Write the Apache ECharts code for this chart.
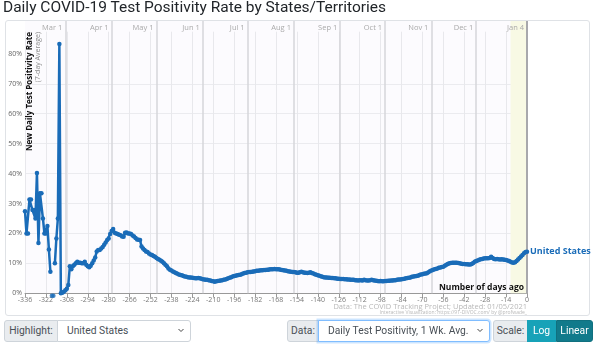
<!DOCTYPE html>
<html><head><meta charset="utf-8">
<script src="https://cdn.jsdelivr.net/npm/echarts@6/dist/echarts.min.js"></script>
<style>
body{margin:0;background:#fff;width:600px;height:344px;overflow:hidden;position:relative;font-family:Roboto,'Noto Sans',sans-serif;}
#title{position:absolute;left:3px;top:-2px;font-size:15.5px;color:#212529;white-space:nowrap;z-index:3;}
#box{position:absolute;left:5px;top:20px;width:585px;height:296px;border:1px solid #dfe2e6;border-radius:3px;box-sizing:border-box;}
#chart{position:absolute;left:0;top:0;width:600px;height:344px;z-index:1;}
.ctl{position:absolute;top:320px;height:22px;box-sizing:border-box;font-size:10.3px;line-height:20px;color:#495057;white-space:nowrap;z-index:3;border:1px solid #ced4da;}
.lab{background:#e9ecef;text-align:center;}
.sel{background:#fff;padding-left:9px;}
.chev{position:absolute;right:6px;top:7px;}
</style>
</head><body>
<div id="box"></div>
<div id="chart"></div>
<div id="title">Daily COVID-19 Test Positivity Rate by States/Territories</div>
<div class="ctl lab" style="left:4px;width:54px;border-radius:3px 0 0 3px;">Highlight:</div>
<div class="ctl sel" style="left:57px;width:134px;border-radius:0 3px 3px 0;">United States<svg class="chev" width="6" height="5" viewBox="0 0 6 5"><path d="M0.5 1 L3 3.5 L5.5 1" stroke="#444" stroke-width="1" fill="none"/></svg></div>
<div class="ctl lab" style="left:287px;width:32px;border-radius:3px 0 0 3px;">Data:</div>
<div class="ctl sel" style="left:318px;width:172px;border-color:#80bdff;box-shadow:0 0 0 1.5px rgba(0,123,255,.2);border-radius:0 3px 3px 0;">Daily Test Positivity, 1 Wk. Avg.<svg class="chev" width="6" height="5" viewBox="0 0 6 5"><path d="M0.5 1 L3 3.5 L5.5 1" stroke="#444" stroke-width="1" fill="none"/></svg></div>
<div class="ctl lab" style="left:493px;width:35px;border-radius:3px 0 0 3px;">Scale:</div>
<div class="ctl" style="left:527px;width:29px;background:#17a2b8;border-color:#17a2b8;color:#fff;text-align:center;">Log</div>
<div class="ctl" style="left:556px;width:37px;background:#117a8b;border-color:#10707f;color:#fff;text-align:center;border-radius:0 3px 3px 0;">Linear</div>
<script>
// ---- data ----
const startDay = -336;
const positivity = [
27.4, 20, 20, 31.3, 31.3, 27.8, 27.8, 25, 40.2, 16.8, 33.4, 33.4, 25, 20,
20, 22.5, 14.6, 7.2, null, null, 10, 18.3, 25, 83.3, 0, 0.2, 0.5, 1.0,
1.5, 2.8, 9.0, 8.0, 9.0, 9.5, 10.0, 10.5, 10.2, 10.2, 10.0, 10.0, 10.5, 9.5,
9.0, 8.7, 9.2, 10.0, 11.0, 12.0, 14.0, 14.5, 14.5, 15.0, 15.5, 16.2, 17.0, 17.8,
18.3, 19.8, 20.8, 21.5, 20.2, 20.0, 19.8, 19.6, 19.4, 19.0, 18.9, 20.2, 20.3, 20.0,
20.0, 19.8, 19.3, 19.0, 18.5, 18.0, 17.9, 17.8, 15.6, 15.0, 14.5, 14.0, 13.8, 13.3,
13.0, 12.8, 12.5, 12.2, 11.8, 11.5, 11.2, 10.9, 10.5, 10.0, 9.5, 9.0, 8.3, 7.9,
7.6, 7.3, 7.0, 6.8, 6.5, 6.3, 6.1, 6.0, 5.8, 5.6, 5.5, 5.4, 5.3, 5.3,
5.2, 5.1, 5.0, 5.0, 5.1, 5.0, 4.9, 4.7, 4.6, 4.5, 4.5, 4.4, 4.3, 4.1,
4.0, 3.9, 4.0, 4.1, 4.2, 4.3, 4.4, 4.5, 4.6, 4.8, 5.0, 5.2, 5.4, 5.6,
5.8, 5.9, 6.0, 6.1, 6.2, 6.4, 6.6, 6.8, 6.9, 7.0, 7.1, 7.1, 7.2, 7.3,
7.4, 7.5, 7.5, 7.6, 7.7, 7.7, 7.8, 7.8, 7.9, 7.9, 8.0, 8.0, 8.0, 8.1,
8.0, 8.0, 8.0, 7.9, 7.8, 7.7, 7.6, 7.5, 7.4, 7.3, 7.2, 7.1, 7.1, 7.0,
6.9, 6.9, 7.0, 7.2, 7.0, 6.9, 6.9, 6.8, 6.9, 7.0, 6.8, 6.6, 6.4, 6.2,
6.0, 5.9, 5.7, 5.5, 5.4, 5.3, 5.3, 5.2, 5.2, 5.1, 5.1, 5.0, 5.0, 4.9,
4.9, 4.8, 4.8, 4.8, 4.7, 4.7, 4.6, 4.6, 4.5, 4.5, 4.5, 4.4, 4.4, 4.3,
4.4, 4.4, 4.3, 4.5, 4.4, 4.3, 4.3, 4.4, 4.5, 4.4, 4.3, 4.2, 4.1, 4.0,
4.1, 4.0, 4.0, 4.1, 4.1, 4.2, 4.2, 4.3, 4.3, 4.4, 4.4, 4.5, 4.6, 4.6,
4.7, 4.8, 4.9, 5.0, 5.1, 5.2, 5.3, 5.5, 5.6, 5.7, 5.8, 5.9, 6.1, 6.3,
6.4, 6.5, 6.6, 6.7, 7.0, 7.4, 7.6, 7.8, 8.0, 8.1, 8.3, 8.5, 8.6, 8.8,
8.9, 9.2, 9.5, 9.8, 10.0, 10.1, 10.2, 10.2, 10.2, 10.2, 10.1, 10.0, 9.9, 9.8,
9.8, 9.7, 9.7, 9.6, 9.6, 9.8, 10.1, 10.5, 10.8, 11.0, 11.2, 11.4, 11.5, 11.6,
11.7, 11.7, 11.7, 11.8, 12.2, 11.8, 11.5, 11.4, 11.5, 11.4, 11.3, 11.4, 11.3, 11.2,
11.1, 11.0, 10.8, 10.5, 10.3, 10.2, 10.4, 10.8, 11.3, 11.8, 12.3, 12.8, 13.4, 13.8,
13.9
];
const strayDays = [-318, -317];
const strayValues = [-0.8, -0.8];
const monthDays = [-309, -278, -248, -217, -187, -156, -125, -95, -64, -34, 0];
const monthLabels = ['Mar 1', 'Apr 1', 'May 1', 'Jun 1', 'Jul 1', 'Aug 1', 'Sep 1', 'Oct 1', 'Nov 1', 'Dec 1', 'Jan 4'];
const xMin = -336, xMax = 0, xStep = 14;
const yTickValues = [0, 10, 20, 30, 40, 50, 60, 70, 80];
const yMax = 87.4;
const shadeFrom = -11, shadeTo = 0;
const seriesName = 'United States';

// ---- chart ----
const blue = '#1a6cb8';
const chart = echarts.init(document.getElementById('chart'), null, {renderer: 'canvas'});
const lineData = positivity.map((v, i) => [startDay + i, v]);
const strayData = strayDays.map((d, i) => [d, strayValues[i]]);
const monthLineData = monthDays.map(d => ({
  xAxis: d,
  lineStyle: d === 0 ? {color: '#a8a8ac', width: 2, type: 'solid'} : {color: '#d6d6da', width: 1.5, type: 'solid'}
}));

chart.setOption({
  animation: false,
  grid: [
    {left: 25, right: 73, top: 31.7, bottom: 50.7},
    {left: 25, right: 73, top: 21, bottom: 50.7, show: true, backgroundColor: '#fcfbfe', borderWidth: 0}
  ],
  xAxis: [
    {type: 'value', gridIndex: 0, min: xMin, max: xMax, interval: xStep,
     axisLine: {lineStyle: {color: '#999'}},
     axisTick: {show: true, length: 4, lineStyle: {color: '#999'}},
     axisLabel: {fontSize: 7, color: '#777', margin: 3, fontFamily: 'Open Sans'},
     splitLine: {show: true, lineStyle: {color: '#e8e8ec', width: 1}}},
    {type: 'value', gridIndex: 1, position: 'top', min: xMin, max: xMax, z: 10,
     axisLine: {show: false}, axisTick: {show: false}, splitLine: {show: false},
     axisLabel: {show: true, inside: true, customValues: monthDays, hideOverlap: false,
       showMinLabel: true, showMaxLabel: true,
       formatter: v => monthLabels[monthDays.indexOf(v)] || '',
       align: 'right', verticalAlign: 'top', fontSize: 7.5, color: '#aaa', margin: 3,
       padding: [0, 3, 0, 0], fontFamily: 'Open Sans'}}
  ],
  yAxis: [
    {type: 'value', gridIndex: 0, min: 0, max: yMax, interval: 10,
     axisLine: {show: true, lineStyle: {color: '#999'}},
     axisTick: {show: true, length: 4, lineStyle: {color: '#999'}, customValues: yTickValues},
     axisLabel: {fontSize: 7, color: '#666', margin: 3, customValues: yTickValues,
       formatter: v => v + '%', fontFamily: 'Open Sans'},
     splitLine: {show: true, showMaxLine: false, lineStyle: {color: '#ebebef'}}},
    {type: 'value', gridIndex: 1, min: 0, max: 1, show: false}
  ],
  series: [
    {type: 'line', xAxisIndex: 1, yAxisIndex: 1, data: [], silent: true, z: 1,
     markLine: {silent: true, symbol: 'none', label: {show: false}, data: monthLineData, z: 1},
     markArea: {silent: true, itemStyle: {color: '#f8f9e4'}, data: [[{xAxis: shadeFrom}, {xAxis: shadeTo}]]}},
    {type: 'line', name: seriesName, xAxisIndex: 0, yAxisIndex: 0, data: lineData, z: 5,
     symbol: 'circle', symbolSize: 4.5, showSymbol: true,
     lineStyle: {color: blue, width: 2.5}, itemStyle: {color: blue},
     connectNulls: false,
     endLabel: {show: true, formatter: seriesName, color: blue, fontWeight: 'bold', fontSize: 9,
       distance: 3, fontFamily: 'Open Sans'}},
    {type: 'scatter', xAxisIndex: 0, yAxisIndex: 0, data: strayData, clip: false, z: 5,
     symbolSize: 4.5, itemStyle: {color: blue}}
  ],
  graphic: [
    {type: 'text', x: 29.5, y: 32, rotation: Math.PI / 2, z: 10,
     style: {text: 'New Daily Test Positivity Rate', font: 'bold 8px "Open Sans"', fill: '#111', align: 'right', verticalAlign: 'middle'}},
    {type: 'text', x: 37.5, y: 32, rotation: Math.PI / 2, z: 10,
     style: {text: '(7-day Average)', font: '7px "Open Sans"', fill: '#888', align: 'right', verticalAlign: 'middle'}},
    {type: 'text', x: 524, y: 287.5, z: 10,
     style: {text: 'Number of days ago', font: 'bold 8.5px "Open Sans"', fill: '#111', align: 'right', verticalAlign: 'middle'}},
    {type: 'text', x: 527, y: 306.5, z: 10,
     style: {text: 'Data: The COVID Tracking Project; Updated: 01/05/2021', font: '7.5px "Open Sans"', fill: '#b8b8b8', align: 'right', verticalAlign: 'middle'}},
    {type: 'text', x: 527, y: 313, z: 10,
     style: {text: 'Interactive Visualization: https://91-DIVOC.com/ by @profwade_', font: '5px "Open Sans"', fill: '#b8b8b8', align: 'right', verticalAlign: 'middle'}}
  ]
});
</script>
</body></html>
